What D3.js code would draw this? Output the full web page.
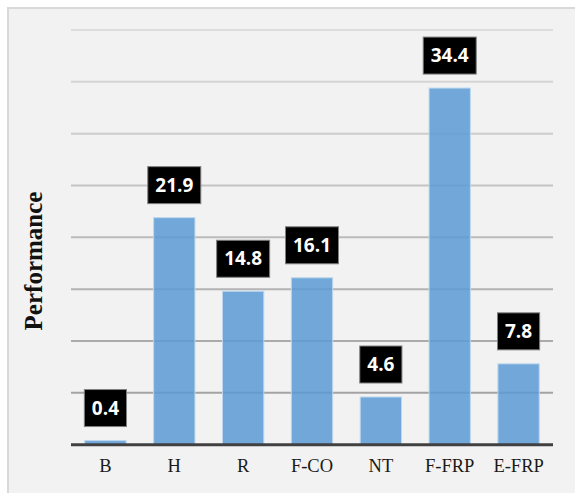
<!DOCTYPE html>
<html>
<head>
<meta charset="utf-8">
<script src="https://cdn.jsdelivr.net/npm/d3@7"></script>
<style>
  body { margin: 0; background: #fff; }
</style>
</head>
<body>
<div id="chart"></div>
<script>
// data
const categories = ['B', 'H', 'R', 'F-CO', 'NT', 'F-FRP', 'E-FRP'];
const values = [0.4, 21.9, 14.8, 16.1, 4.6, 34.4, 7.8];
const yTicks = [0, 5, 10, 15, 20, 25, 30, 35, 40];

const W = 575, H = 493;
const margin = { top: 30, right: 22, bottom: 48, left: 71 };

const svg = d3.select('#chart').append('svg')
    .attr('width', W)
    .attr('height', H);

// grey panel behind the chart
svg.append('rect')
    .attr('x', 8).attr('y', 8)
    .attr('width', W).attr('height', H)
    .attr('fill', '#f2f2f2')
    .attr('stroke', '#d9d9d9')
    .attr('stroke-width', 2);

const x = d3.scaleBand()
    .domain(categories)
    .range([margin.left, W - margin.right])
    .paddingInner(0.4)
    .paddingOuter(0.2);

const y = d3.scaleLinear()
    .domain([0, 40])
    .range([H - margin.bottom - 0.3, margin.top]);

// gridlines get darker towards the bottom
const gridColor = d3.scaleLinear().domain([40, 5]).range(['#dcdcdc', '#a3a3a3']);

svg.append('g')
    .selectAll('line')
    .data(yTicks.filter(d => d > 0))
    .join('line')
    .attr('x1', margin.left)
    .attr('x2', W - margin.right)
    .attr('y1', d => y(d))
    .attr('y2', d => y(d))
    .attr('stroke', d => gridColor(d))
    .attr('stroke-width', 2);

// bars
svg.append('g')
    .selectAll('rect')
    .data(values)
    .join('rect')
    .attr('x', (d, i) => x(categories[i]))
    .attr('y', d => y(d))
    .attr('width', x.bandwidth())
    .attr('height', d => y(0) - y(d))
    .attr('fill', '#5b9bd5')
    .attr('fill-opacity', 0.85)
    .attr('stroke', '#bdd7ee')
    .attr('stroke-width', 1);

// baseline
svg.append('line')
    .attr('x1', margin.left)
    .attr('x2', W - margin.right)
    .attr('y1', y(0))
    .attr('y2', y(0))
    .attr('stroke', '#404040')
    .attr('stroke-width', 3);

// category axis
const xAxis = svg.append('g')
    .attr('transform', `translate(0,${y(0)})`)
    .call(d3.axisBottom(x).tickSize(0).tickPadding(14));
xAxis.select('.domain').remove();
xAxis.selectAll('text')
    .attr('font-family', '"Liberation Serif", "Times New Roman", serif')
    .attr('font-size', 18.5)
    .attr('fill', '#1a1a1a');

// value labels in black boxes
const labels = svg.append('g')
    .selectAll('g')
    .data(values)
    .join('g')
    .attr('transform', (d, i) => `translate(${x(categories[i]) + x.bandwidth() / 2},${y(d) - 14 - 18.5})`);

labels.append('rect')
    .attr('y', -18.5)
    .attr('height', 37)
    .attr('fill', '#000')
    .attr('stroke', '#7f7f7f')
    .attr('stroke-width', 1);

labels.append('text')
    .attr('text-anchor', 'middle')
    .attr('dy', '0.35em')
    .attr('font-family', '"Open Sans", sans-serif')
    .attr('font-weight', 700)
    .attr('font-size', 19)
    .attr('fill', '#fff')
    .text(d => d.toFixed(1));

labels.each(function () {
    const g = d3.select(this);
    const w = g.select('text').node().getComputedTextLength() + 15;
    g.select('rect').attr('x', -w / 2).attr('width', w);
});

// y-axis title
svg.append('text')
    .attr('transform', 'translate(42,261) rotate(-90)')
    .attr('text-anchor', 'middle')
    .attr('font-family', '"Liberation Serif", "Times New Roman", serif')
    .attr('font-weight', 700)
    .attr('font-size', 25)
    .attr('fill', '#111')
    .text('Performance');
</script>
</body>
</html>
